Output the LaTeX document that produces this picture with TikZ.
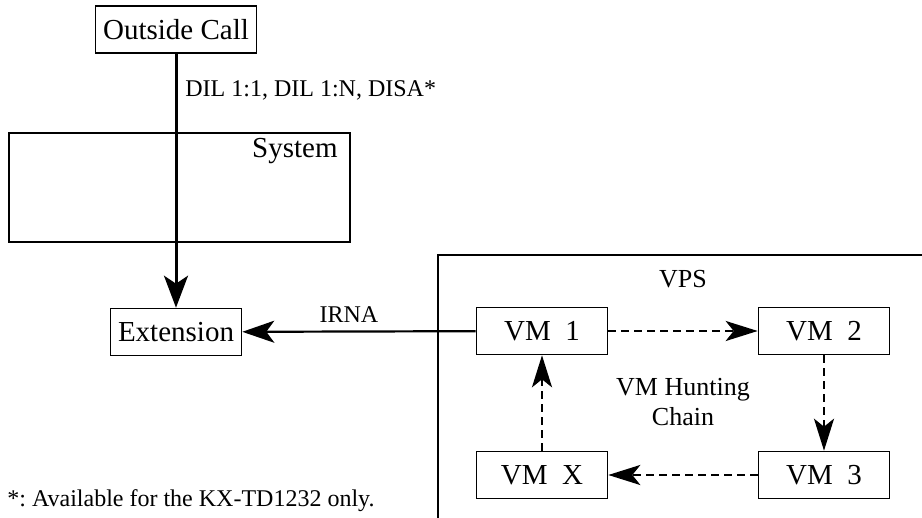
\documentclass[tikz,border=0pt]{standalone}
\usepackage{fontspec}
\setmainfont{Liberation Serif}
\usetikzlibrary{arrows.meta}

\begin{document}
\begin{tikzpicture}[x=0.5pt,y=-0.5pt,
		unit/.style={draw,line width=0.8pt,minimum width=65.5pt,minimum height=23.5pt,inner sep=0pt,font=\fontsize{14.5}{17}\selectfont},
		hunt/.style={line width=1.3pt,dash pattern=on 4pt off 2.5pt,-{Stealth[length=16pt,width=10pt,inset=4pt]}},
		note/.style={inner sep=0pt,font=\fontsize{12}{14}\selectfont}]

			\useasboundingbox (0,0) rectangle (922,518);

			% left side: call comes in and goes to the extension
			\node[unit,minimum width=80.5pt] (outside) at (176,29.5) {Outside Call};
			\draw[line width=0.8pt] (9,133) rectangle (350,242);
			\node[note,font=\fontsize{14.5}{17}\selectfont,anchor=base east] (system) at (338,158) {System};
			\node[unit] (ext) at (176,332) {Extension};
			\draw[line width=1.5pt,-{Stealth[length=16pt,width=12pt,inset=4pt]}] (outside) -- (ext);
			\node[note,anchor=base west] (dil) at (185,97) {DIL 1:1, DIL 1:N, DISA*};

			% VPS with its hunting chain
			\draw[line width=0.8pt] (438,530) |- (930,255);
			\node[note,font=\fontsize{13}{15}\selectfont,anchor=base] (vps) at (683,288) {VPS};
			\node[unit] (vm1) at (542,331) {VM\ \ 1};
			\node[unit] (vm2) at (824,331) {VM\ \ 2};
			\node[unit] (vm3) at (824,475) {VM\ \ 3};
			\node[unit] (vmx) at (542,475) {VM\ \ X};
			\node[note,font=\fontsize{13}{15}\selectfont,align=center] (chain) at (683,402) {VM Hunting\\Chain};
			\draw[hunt] (vm1) -- (vm2);
			\draw[hunt] (vm2) -- (vm3);
			\draw[hunt] (vm3) -- (vmx);
			\draw[hunt] (vmx) -- (vm1);

			% IRNA back to the extension
			\draw[line width=1.1pt,-{Stealth[length=16pt,width=11pt,inset=4pt]}] (vm1) -- (ext);
			\node[note,anchor=base] (irna) at (349,323) {IRNA};

			\node[note,anchor=base west] (foot) at (7,507) {*:\ Available for the KX-TD1232 only.};

		\end{tikzpicture}
\end{document}
